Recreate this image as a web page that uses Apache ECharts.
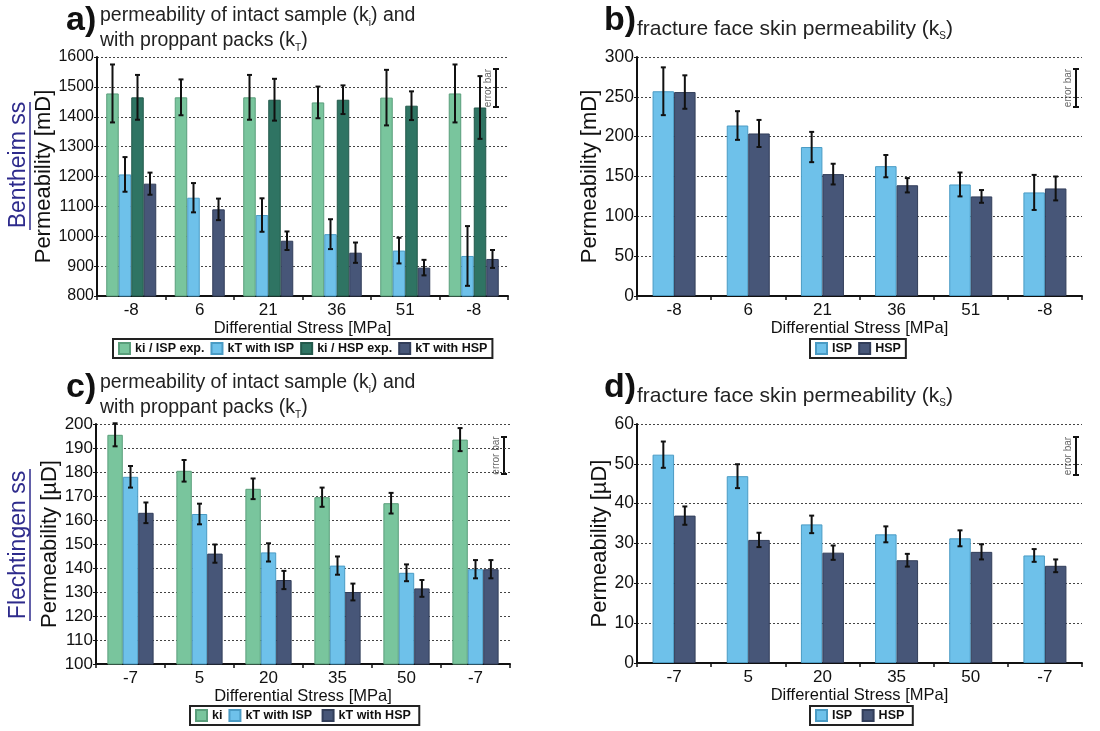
<!DOCTYPE html>
<html><head><meta charset="utf-8">
<script src="https://cdn.jsdelivr.net/npm/echarts@6/dist/echarts.min.js"></script>
<style>html,body{margin:0;padding:0;background:#fff}#c{width:1100px;height:731px}</style>
</head><body><div id="c"></div>
<script>
// ---------- data ----------
const stressBentheim = ['-8','6','21','36','51','-8'];
const stressFlechtingen = ['-7','5','20','35','50','-7'];

// a) Bentheim, intact / proppant packs [mD]
const a_kiISP     = [1478, 1465, 1465, 1448, 1464, 1478];
const a_kiISP_err = [97, 60, 75, 53, 93, 97];
const a_kTISP     = [1207, 1129, 1071, 1007, 952, 934];
const a_kTISP_err = [58, 49, 56, 50, 43, 100];
const a_kiHSP     = [1465, null, 1457, 1457, 1437, 1431];
const a_kiHSP_err = [75, null, 70, 48, 48, 105];
const a_kTHSP     = [1176, 1090, 985, 945, 895, 924];
const a_kTHSP_err = [37, 36, 31, 34, 26, 30];

// b) Bentheim, fracture face skin [mD]
const b_ISP     = [257, 214, 187, 163, 140, 130];
const b_ISP_err = [30, 18, 19, 14, 15, 22];
const b_HSP     = [256, 204, 153, 139, 125, 135];
const b_HSP_err = [21, 17, 13, 9, 8, 15];

// c) Flechtingen, intact / proppant packs [µD]
const c_ki      = [195.5, 180.5, 173, 169.5, 167, 193.5];
const c_ki_err  = [4.8, 4.5, 4.3, 4, 4.3, 4.8];
const c_ISP     = [178, 162.5, 146.5, 141, 138, 139.5];
const c_ISP_err = [4.5, 4.3, 3.8, 3.8, 3.5, 3.8];
const c_HSP     = [163, 146, 135, 130, 131.5, 139.5];
const c_HSP_err = [4.3, 3.8, 3.8, 3.5, 3.5, 3.8];

// d) Flechtingen, fracture face skin [µD]
const d_ISP     = [52.3, 46.9, 34.8, 32.3, 31.3, 27];
const d_ISP_err = [3.3, 3, 2.2, 2, 2, 1.6];
const d_HSP     = [37, 30.9, 27.7, 25.8, 27.9, 24.4];
const d_HSP_err = [2.3, 1.8, 1.8, 1.6, 1.9, 1.6];

// ---------- styling ----------
const FONT = 'Liberation Sans, Arial, sans-serif';
const GREEN = '#79c59d', GREEN_B = '#5a9e7b';
const BLUE = '#6ec1ea', BLUE_B = '#4a9bc4';
const TEAL = '#2f7463', TEAL_B = '#23594b';
const NAVY = '#475678', NAVY_B = '#323e5a';

const grids = [
  {left: 97, top: 57, width: 411, height: 239},
  {left: 637, top: 57, width: 445, height: 239},
  {left: 96, top: 424, width: 414, height: 240},
  {left: 637, top: 424, width: 445, height: 239}
];
const gaps = [0.27, 0.42, 0.33, 0.42];
const nBars = [4, 2, 3, 2];

function xAxis(cats, gi) {
  return {
    type: 'category', data: cats, gridIndex: gi,
    name: 'Differential Stress [MPa]', nameLocation: 'middle', nameGap: 23,
    nameTextStyle: {fontFamily: FONT, fontSize: 16.5, color: '#111'},
    axisLine: {show: true, lineStyle: {color: '#111', width: 2}},
    axisTick: {show: true, length: 4, lineStyle: {color: '#111', width: 1.5}},
    axisLabel: {interval: 0, fontFamily: FONT, fontSize: 17, color: '#111', margin: 6},
    splitLine: {show: false}
  };
}
function yAxis(gi, min, max, interval, name, gap, lblSize) {
  return {
    type: 'value', gridIndex: gi, min, max, interval,
    name, nameLocation: 'middle', nameGap: gap,
    nameTextStyle: {fontFamily: FONT, fontSize: 22, color: '#111'},
    axisLine: {show: true, lineStyle: {color: '#111', width: 2}},
    axisTick: {show: true, length: 3, lineStyle: {color: '#111'}},
    axisLabel: {fontFamily: FONT, fontSize: lblSize, color: '#111', margin: 3, formatter: v => String(v)},
    splitLine: {show: true, lineStyle: {type: [2, 2], color: '#444', width: 1}}
  };
}
function bar(name, data, color, border, gi) {
  return {
    type: 'bar', name, data: data.map(v => v == null ? '-' : v),
    xAxisIndex: gi, yAxisIndex: gi, barGap: '0%', barCategoryGap: (gaps[gi] * 100) + '%',
    itemStyle: {color, borderColor: border, borderWidth: 1}, silent: true, z: 2
  };
}
function err(values, errs, idx, gi) {
  const n = nBars[gi], gap = gaps[gi];
  const data = [];
  values.forEach((v, i) => { if (v != null && errs[i] != null) data.push([i, v, errs[i]]); });
  return {
    type: 'custom', xAxisIndex: gi, yAxisIndex: gi, silent: true, z: 5,
    data, encode: {x: 0, y: 1},
    renderItem: function (params, api) {
      const i = api.value(0), v = api.value(1), e = api.value(2);
      const bandW = api.size([1, 0])[0];
      const bw = bandW * (1 - gap) / n;
      const cx = api.coord([i, v])[0] - bw * n / 2 + bw * (idx + 0.5);
      const yt = api.coord([i, v + e])[1], yb = api.coord([i, v - e])[1];
      const cw = 2.5, st = {stroke: '#111', lineWidth: 2};
      return {type: 'group', children: [
        {type: 'line', shape: {x1: cx, y1: yt, x2: cx, y2: yb}, style: st},
        {type: 'line', shape: {x1: cx - cw, y1: yt, x2: cx + cw, y2: yt}, style: st},
        {type: 'line', shape: {x1: cx - cw, y1: yb, x2: cx + cw, y2: yb}, style: st}
      ]};
    }
  };
}
function legend(names, left, top) {
  return {
    data: names, left, top, orient: 'horizontal',
    borderColor: '#222', borderWidth: 2, borderRadius: 0, padding: [3, 5, 3, 5],
    itemWidth: 11, itemHeight: 11, itemGap: 6, icon: 'rect', selectedMode: false,
    textStyle: {fontFamily: FONT, fontSize: 12.5, fontWeight: 'bold', color: '#111'}
  };
}

// ---------- graphics (titles, labels, error-bar keys) ----------
function richSet(size) {
  return {
    t: {fontFamily: FONT, fontSize: size, color: '#222', lineHeight: 24},
    s: {fontFamily: FONT, fontSize: 10, color: '#222', lineHeight: 24, verticalAlign: 'bottom'}
  };
}
function txt(x, y, text, extra) {
  return {type: 'text', x, y, silent: true,
    style: Object.assign({text, fontFamily: FONT, fill: '#111'}, extra || {})};
}
function title(x, y, text, size) {
  return {type: 'text', x, y, silent: true, style: {text, rich: richSet(size), fill: '#222'}};
}
function errKey(x, y1, y2) {
  const st = {stroke: '#111', lineWidth: 2};
  return [
    {type: 'line', silent: true, shape: {x1: x, y1, x2: x, y2}, style: st},
    {type: 'line', silent: true, shape: {x1: x - 3, y1, x2: x + 3, y2: y1}, style: st},
    {type: 'line', silent: true, shape: {x1: x - 3, y1: y2, x2: x + 3, y2: y2}, style: st},
    {type: 'text', silent: true, x: x - 8, y: (y1 + y2) / 2, rotation: Math.PI / 2,
      style: {text: 'error bar', fontFamily: FONT, fontSize: 10, fill: '#666', align: 'center', verticalAlign: 'middle'}}
  ];
}
function sideLabel(x, y, text, y1, y2) {
  return [
    {type: 'text', silent: true, x, y, rotation: Math.PI / 2,
      style: {text, fontFamily: FONT, fontSize: 23, fill: '#2e2b8c', align: 'center', verticalAlign: 'middle'}},
    {type: 'line', silent: true, shape: {x1: x + 11, y1, x2: x + 11, y2}, style: {stroke: '#2e2b8c', lineWidth: 1.5}}
  ];
}

const graphic = [].concat(
  [txt(66, 4, 'a)', {fontSize: 34, fontWeight: 'bold'}),
   title(100, 4, '{t|permeability of intact sample (k}{s|i}{t|) and}', 19.5),
   title(100, 29, '{t|with proppant packs (k}{s|T}{t|)}', 19.5),
   txt(604, 4, 'b)', {fontSize: 34, fontWeight: 'bold'}),
   title(637, 17, '{t|fracture face skin permeability (k}{s|S}{t|)}', 21),
   txt(66, 371, 'c)', {fontSize: 34, fontWeight: 'bold'}),
   title(100, 371, '{t|permeability of intact sample (k}{s|i}{t|) and}', 19.5),
   title(100, 396, '{t|with proppant packs (k}{s|T}{t|)}', 19.5),
   txt(604, 371, 'd)', {fontSize: 34, fontWeight: 'bold'}),
   title(637, 384, '{t|fracture face skin permeability (k}{s|S}{t|)}', 21)],
  sideLabel(19, 165, 'Bentheim ss', 102, 230),
  sideLabel(19, 545, 'Flechtingen ss', 469, 621),
  errKey(496, 69, 107),
  errKey(1076, 69, 107),
  errKey(504, 437, 474),
  errKey(1076, 437, 475)
);

const option = {
  backgroundColor: '#fff',
  animation: false,
  textStyle: {fontFamily: FONT},
  grid: grids.map(g => Object.assign({containLabel: false, outerBoundsMode: 'none'}, g)),
  xAxis: [xAxis(stressBentheim, 0), xAxis(stressBentheim, 1), xAxis(stressFlechtingen, 2), xAxis(stressFlechtingen, 3)],
  yAxis: [
    yAxis(0, 800, 1600, 100, 'Permeability [mD]', 31, 16),
    yAxis(1, 0, 300, 50, 'Permeability [mD]', 25, 17.5),
    yAxis(2, 100, 200, 10, 'Permeability [µD]', 32, 17),
    yAxis(3, 0, 60, 10, 'Permeability [µD]', 25, 17.5)
  ],
  legend: [
    legend(['ki / ISP exp.', 'kT with ISP', 'ki / HSP exp.', 'kT with HSP'], 113, 339),
    legend(['ISP', 'HSP'], 810, 339),
    legend(['ki', 'kT with ISP ', 'kT with HSP '], 190, 706),
    legend(['ISP ', 'HSP '], 810, 706)
  ],
  series: [
    bar('ki / ISP exp.', a_kiISP, GREEN, GREEN_B, 0),
    bar('kT with ISP', a_kTISP, BLUE, BLUE_B, 0),
    bar('ki / HSP exp.', a_kiHSP, TEAL, TEAL_B, 0),
    bar('kT with HSP', a_kTHSP, NAVY, NAVY_B, 0),
    err(a_kiISP, a_kiISP_err, 0, 0), err(a_kTISP, a_kTISP_err, 1, 0),
    err(a_kiHSP, a_kiHSP_err, 2, 0), err(a_kTHSP, a_kTHSP_err, 3, 0),

    bar('ISP', b_ISP, BLUE, BLUE_B, 1),
    bar('HSP', b_HSP, NAVY, NAVY_B, 1),
    err(b_ISP, b_ISP_err, 0, 1), err(b_HSP, b_HSP_err, 1, 1),

    bar('ki', c_ki, GREEN, GREEN_B, 2),
    bar('kT with ISP ', c_ISP, BLUE, BLUE_B, 2),
    bar('kT with HSP ', c_HSP, NAVY, NAVY_B, 2),
    err(c_ki, c_ki_err, 0, 2), err(c_ISP, c_ISP_err, 1, 2), err(c_HSP, c_HSP_err, 2, 2),

    bar('ISP ', d_ISP, BLUE, BLUE_B, 3),
    bar('HSP ', d_HSP, NAVY, NAVY_B, 3),
    err(d_ISP, d_ISP_err, 0, 3), err(d_HSP, d_HSP_err, 1, 3)
  ],
  graphic: graphic
};

const chart = echarts.init(document.getElementById('c'), null, {renderer: 'canvas', width: 1100, height: 731});
chart.setOption(option);
</script>
</body></html>
